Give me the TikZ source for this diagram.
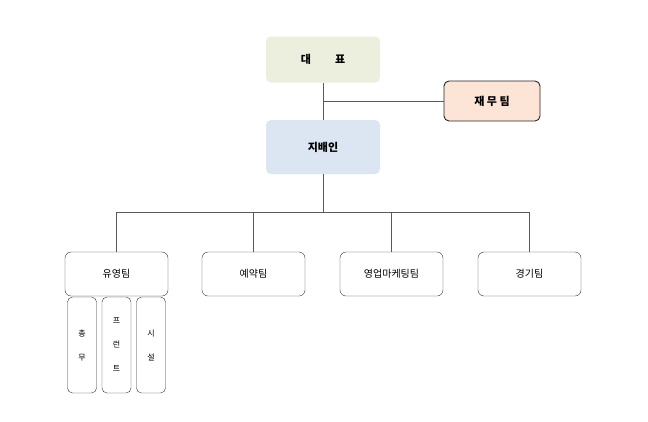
\documentclass[tikz,border=0pt]{standalone}
\usepackage{fontspec}
\setmainfont{Noto Sans CJK KR}
\usetikzlibrary{positioning}
\begin{document}
\begin{tikzpicture}[x=1pt, y=-1pt,
    topbox/.style={rectangle, rounded corners=5pt, minimum width=114pt, minimum height=46pt, font=\bfseries\fontsize{11}{13}\selectfont},
    teambox/.style={rectangle, draw=black!80, rounded corners=6pt, minimum width=103pt, minimum height=44pt, font=\fontsize{10}{12}\selectfont},
    subbox/.style={rectangle, draw=black!80, rounded corners=5pt, minimum width=29pt, minimum height=96pt, align=center, font=\fontsize{8}{24}\selectfont},
    link/.style={draw=black!65, line width=0.6pt}
]
    \useasboundingbox (0,0) rectangle (648,421);
    % Top levels
    \node[topbox, fill={rgb,255:red,236;green,239;blue,222}] (ceo) at (323,59.5) {대\hspace{2.2em}표};
    \node[topbox, fill={rgb,255:red,220;green,230;blue,242}, minimum height=54pt] (mgr) at (323,147) {지배인};
    \node[rectangle, draw=black!85, line width=0.9pt, rounded corners=5pt, fill={rgb,255:red,252;green,228;blue,214},
        minimum width=96pt, minimum height=40pt, font=\bfseries\fontsize{11}{13}\selectfont] (fin) at (492,101) {재 무 팀};
    % Teams
    \node[teambox] (ops) at (116.5,274) {유영팀};
    \node[teambox] (rsv) at (253.5,274) {예약팀};
    \node[teambox] (mkt) at (391.5,274) {영업마케팅팀};
    \node[teambox] (gam) at (529.5,274) {경기팀};
    % Sub units
    \node[subbox] (gen) at (82,345) {총\\무};
    \node[subbox] (frt) at (116.5,345) {프\\런\\트};
    \node[subbox] (fac) at (151,345) {시\\설};
    % Links
    \coordinate (fj) at (323,101);
    \coordinate (bus) at (323,212);
    \draw[link] (ceo) -- (mgr);
    \draw[link] (fj) -- (fin.west);
    \draw[link] (mgr) -- (bus);
    \foreach \t in {ops,rsv,mkt,gam}
        \draw[link] (bus) -| (\t.north);
\end{tikzpicture}
\end{document}
